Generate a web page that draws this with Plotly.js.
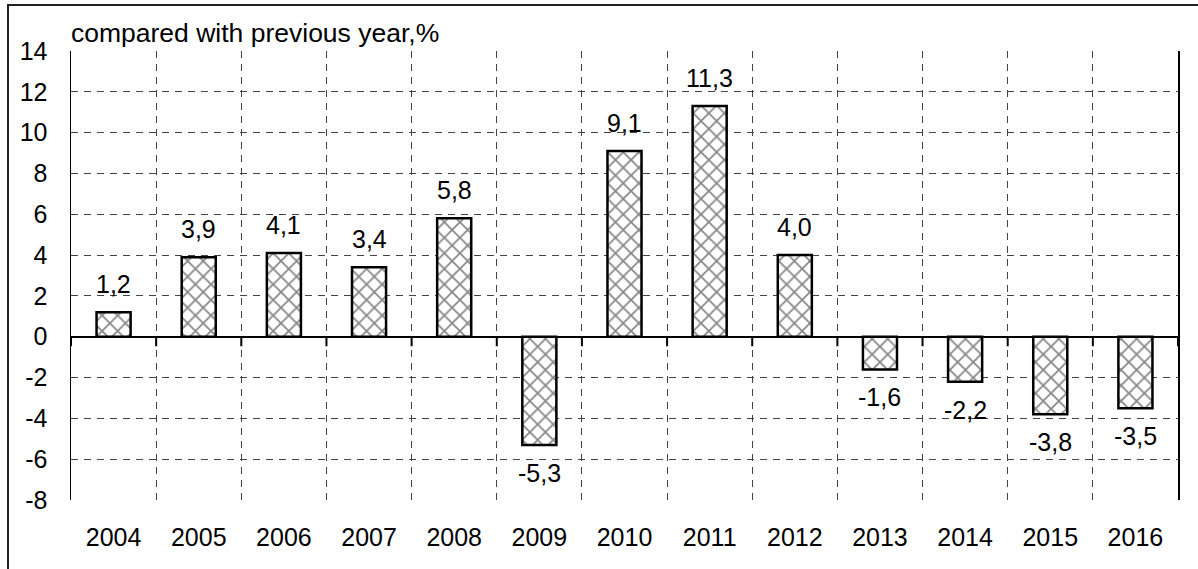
<!DOCTYPE html>
<html>
<head>
<meta charset="utf-8">
<script src="https://cdn.plot.ly/plotly-3.0.1.min.js"></script>
<style>
  html, body { margin: 0; padding: 0; background: #fff; overflow: hidden; }
  #wrap { position: relative; width: 1198px; height: 569px; }
  #chart { position: absolute; left: 0; top: 0; width: 1198px; height: 569px; }
  #frame { position: absolute; left: 7px; top: 4px; width: 1400px; height: 800px;
           border-left: 2px solid #222; border-top: 2px solid #222; pointer-events: none; }
</style>
</head>
<body>
<div id="wrap">
  <div id="chart"></div>
  <div id="frame"></div>
</div>
<script>
const years = ['2004','2005','2006','2007','2008','2009','2010','2011','2012','2013','2014','2015','2016'];
const values = [1.2, 3.9, 4.1, 3.4, 5.8, -5.3, 9.1, 11.3, 4.0, -1.6, -2.2, -3.8, -3.5];
const labels = ['1,2','3,9','4,1','3,4','5,8','-5,3','9,1','11,3','4,0','-1,6','-2,2','-3,8','-3,5'];
const yTicks = [-8,-6,-4,-2,0,2,4,6,8,10,12,14];
const titleText = 'compared with previous year,%';

const FONT = 'Liberation Sans, Arial, sans-serif';
const TICKSIZE = 25;

const bars = {
  type: 'bar',
  x: years,
  y: values,
  width: 0.4,
  marker: {
    color: '#ffffff',
    line: { color: '#000000', width: 2.5 },
    pattern: { shape: 'x', size: 11, solidity: 0.3, fgcolor: '#111111', bgcolor: '#ffffff', fillmode: 'overlay' }
  },
  hoverinfo: 'x+y',
  showlegend: false
};

const valueLabels = years.map((yr, i) => ({
  x: i,
  y: values[i],
  xref: 'x',
  yref: 'y',
  text: labels[i],
  showarrow: false,
  xanchor: 'center',
  yanchor: values[i] >= 0 ? 'bottom' : 'top',
  yshift: values[i] >= 0 ? 12 : -12,
  font: { family: FONT, size: TICKSIZE, color: '#000' }
}));

// small tick marks on the zero line at category boundaries
const zeroTicks = [];
for (let k = 0; k <= years.length; k++) {
  zeroTicks.push({
    x: k - 0.5,
    y: 0,
    xref: 'x',
    yref: 'y',
    text: '',
    showarrow: true,
    arrowhead: 0,
    arrowwidth: 2,
    arrowcolor: '#000',
    ax: 0,
    ay: 11,
    standoff: 0,
    startstandoff: 0
  });
}

const layout = {
  width: 1198,
  height: 569,
  margin: { l: 71, r: 20, t: 51, b: 69 },
  paper_bgcolor: '#ffffff',
  plot_bgcolor: '#ffffff',
  font: { family: FONT, size: TICKSIZE, color: '#000' },
  title: {
    text: titleText,
    font: { family: FONT, size: 26.5, color: '#000' },
    xref: 'paper', x: 0, xanchor: 'left',
    yref: 'container', y: 1 - 33 / 569, yanchor: 'middle'
  },
  xaxis: {
    type: 'category',
    categoryorder: 'array',
    categoryarray: years,
    range: [-0.5, years.length - 0.5],
    tickson: 'boundaries',
    showgrid: true,
    gridcolor: '#444',
    gridwidth: 1,
    griddash: '7px,6px',
    ticks: '',
    showline: false,
    zeroline: false,
    ticklabelstandoff: 20,
    tickangle: 0,
    tickfont: { family: FONT, size: TICKSIZE, color: '#000' },
    fixedrange: true
  },
  yaxis: {
    range: [-8, 14],
    tickvals: yTicks,
    ticktext: yTicks.map(String),
    showgrid: true,
    gridcolor: '#444',
    gridwidth: 1,
    griddash: '7px,6px',
    zeroline: true,
    zerolinecolor: '#000',
    zerolinewidth: 2,
    showline: true,
    linecolor: '#000',
    linewidth: 1.5,
    mirror: true,
    ticks: '',
    ticklabelstandoff: 17,
    tickfont: { family: FONT, size: TICKSIZE, color: '#000' },
    fixedrange: true
  },
  annotations: valueLabels.concat(zeroTicks),
  showlegend: false
};

Plotly.newPlot('chart', [bars], layout, { displayModeBar: false, staticPlot: true });
</script>
</body>
</html>
